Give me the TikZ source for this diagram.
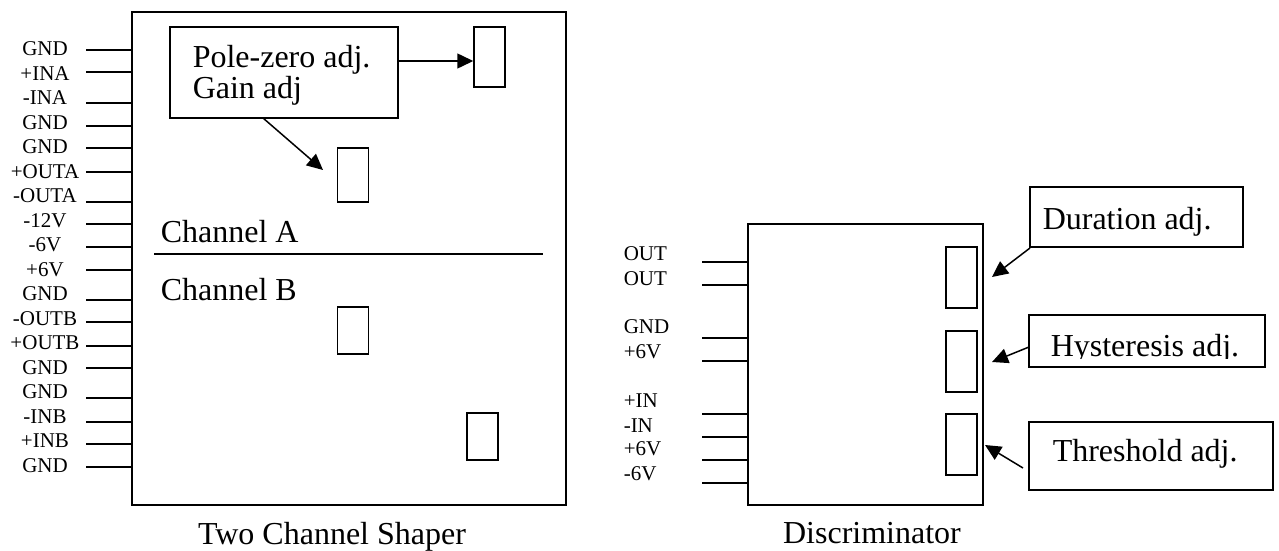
\documentclass[tikz,border=0pt]{standalone}
\usepackage{fontspec}
\setmainfont{Liberation Serif}
\usetikzlibrary{arrows.meta}
\begin{document}
\begin{tikzpicture}[x=1pt,y=-1pt,line width=1.5pt,
  bigtxt/.style={font=\fontsize{32}{30}\selectfont, inner sep=0pt},
  pinlbl/.style={font=\fontsize{21}{22}\selectfont, inner sep=0pt},
  frame/.style={draw, line width=1.7pt, inner sep=0pt},
  knob/.style={draw, line width=1.5pt, inner sep=0pt, minimum width=31pt},
  pin/.style={line width=1.6pt},
  callarrow/.style={line width=1.5pt, -{Triangle[length=16pt,width=15pt]}}]
\useasboundingbox (0,0) rectangle (1279,551);

% ---------------- Two channel shaper ----------------
\node[frame, minimum width=434pt, minimum height=493pt] (shaper) at (349,258.5) {};
\coordinate (lineL) at (154,254);
\coordinate (lineR) at (543,254);
\draw[line width=1.5pt] (lineL) -- (lineR);
\node[bigtxt, anchor=base west] (chA) at (160,242) {Channel A};
\node[bigtxt, anchor=base west] (chB) at (160,300) {Channel B};

% knobs
\node[knob, minimum height=60pt] (k1) at (489.5,57) {};
\node[knob, minimum height=54pt] (k2) at (353,175) {};
\node[knob, minimum height=47pt] (k3) at (353,330.5) {};
\node[knob, minimum height=47pt] (k4) at (482.5,436.5) {};

% callout
\node[frame, line width=1.5pt, minimum width=228pt, minimum height=91pt] (pz) at (284,72.5) {};
\node[bigtxt, anchor=base west] (pzt1) at (192,67) {Pole-zero adj.};
\node[bigtxt, anchor=base west] (pzt2) at (192,98) {Gain adj};
\draw[callarrow] (pz.east |- 0,61) -- (k1.west |- 0,61);
\coordinate (a2s) at (263,118);
\coordinate (a2e) at (323,170);
\draw[callarrow] (a2s) -- (a2e);

% pins
\foreach \y [count=\i] in {50,72,103,126,148,172,202,224,247,270,300,322,346,368,398,422,444,467}{
  \coordinate (sp\i) at (86,\y);
  \draw[pin] (sp\i) -- (shaper.west |- sp\i);
}
\foreach \t [count=\i] in {GND,+INA,-INA,GND,GND,+OUTA,-OUTA,-12V,-6V,+6V,GND,-OUTB,+OUTB,GND,GND,-INB,+INB,GND}{
  \node[pinlbl] (sl\i) at (45,{49+24.5*(\i-1)}) {\t};
}
\node[bigtxt, anchor=base] (shcap) at (332,544) {Two Channel Shaper};

% ---------------- Discriminator ----------------
\node[frame, minimum width=235pt, minimum height=281pt] (disc) at (865.5,364.5) {};
\foreach \y [count=\i] in {262,285,338,361,414,437,460,483}{
  \coordinate (dp\i) at (702,\y);
  \draw[pin] (dp\i) -- (disc.west |- dp\i);
}
\foreach \t/\y [count=\i] in {OUT/254,OUT/279,GND/327,+6V/352,+IN/401,-IN/426,+6V/449,-6V/474}{
  \node[pinlbl, anchor=west] (dl\i) at (623,\y) {\t};
}
\node[knob, minimum height=61pt] (dk1) at (961.5,277.5) {};
\node[knob, minimum height=61pt] (dk2) at (961.5,361.5) {};
\node[knob, minimum height=61pt] (dk3) at (961.5,444.5) {};

\node[frame, line width=1.5pt, minimum width=213pt, minimum height=60pt] (dur) at (1136.5,217) {};
\node[bigtxt, anchor=base west] (durt) at (1042,229) {Duration adj.};
\node[frame, line width=1.5pt, minimum width=236pt, minimum height=52pt] (hys) at (1147,341) {};
\begin{scope}
  \clip (1020,300) rectangle (1279,358);
  \node[bigtxt, anchor=base west] (hyst) at (1050,356) {Hysteresis adj.};
\end{scope}
\node[frame, line width=1.5pt, minimum width=244pt, minimum height=68pt] (thr) at (1151,456) {};
\node[bigtxt, anchor=base west] (thrt) at (1052,461) {Threshold adj.};

\coordinate (d1s) at (1030,248);
\coordinate (d1e) at (992,277);
\draw[callarrow] (d1s) -- (d1e);
\coordinate (d2s) at (1029,347);
\coordinate (d2e) at (992,362);
\draw[callarrow] (d2s) -- (d2e);
\coordinate (d3s) at (1023,468);
\coordinate (d3e) at (985,445);
\draw[callarrow] (d3s) -- (d3e);

\node[bigtxt, anchor=base] (dcap) at (872,543) {Discriminator};
\end{tikzpicture}
\end{document}
